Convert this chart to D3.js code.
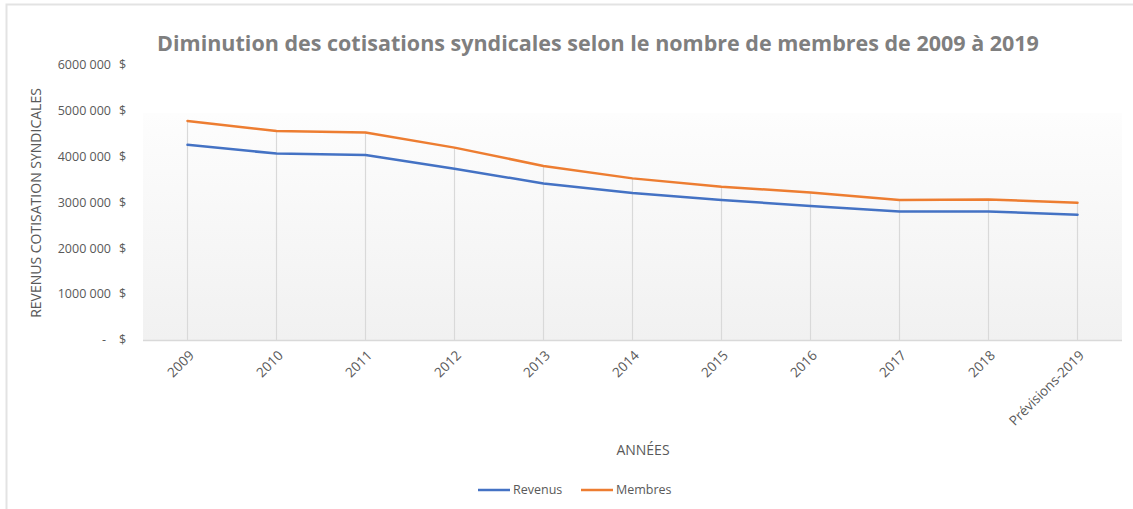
<!DOCTYPE html>
<html>
<head>
<meta charset="utf-8">
<script src="https://cdn.jsdelivr.net/npm/d3@7"></script>
<style>
  body { margin: 0; background: #fff; }
  text { font-family: "Open Sans", "Noto Sans", sans-serif; fill: #595959; }
</style>
</head>
<body>
<svg width="1133" height="509"></svg>
<script>
// Data
var years = ["2009", "2010", "2011", "2012", "2013", "2014", "2015", "2016", "2017", "2018", "Prévisions-2019"];
var revenus = [4250000, 4060000, 4030000, 3730000, 3410000, 3200000, 3050000, 2920000, 2800000, 2800000, 2730000];
var membres = [4770000, 4550000, 4520000, 4190000, 3790000, 3520000, 3340000, 3210000, 3050000, 3060000, 2990000];
var yTicks = [0, 1000000, 2000000, 3000000, 4000000, 5000000, 6000000];

var series = [
  { name: "Revenus", values: revenus, color: "#4472C4" },
  { name: "Membres", values: membres, color: "#ED7D31" }
];

var svg = d3.select("svg"),
  width = +svg.attr("width"),
  height = +svg.attr("height");

// outer chart border (only top and left are visible in the picture)
svg.append("rect")
  .attr("x", 6.5).attr("y", 4.5)
  .attr("width", width + 10).attr("height", height + 10)
  .attr("fill", "#fff")
  .attr("stroke", "#e3e3e3")
  .attr("stroke-width", 2);

var x = d3.scaleBand().domain(years).range([143, 1122]);
var y = d3.scaleLinear().domain([0, 6000000]).range([340, 64.5]);

function xc(d) { return x(d) + x.bandwidth() / 2; }

// plot area gradient
var defs = svg.append("defs");
var grad = defs.append("linearGradient")
  .attr("id", "plotGrad")
  .attr("x1", 0).attr("y1", 0).attr("x2", 0).attr("y2", 1);
grad.append("stop").attr("offset", "0%").attr("stop-color", "#fdfdfd");
grad.append("stop").attr("offset", "100%").attr("stop-color", "#f1f1f1");

svg.append("rect")
  .attr("x", 143).attr("y", 113)
  .attr("width", 1122 - 143).attr("height", 340 - 113)
  .attr("fill", "url(#plotGrad)");

// drop lines from the highest series down to the axis
svg.append("g").selectAll("line")
  .data(years)
  .enter()
  .append("line")
  .attr("x1", function(d) { return xc(d); })
  .attr("x2", function(d) { return xc(d); })
  .attr("y1", function(d, i) { return y(Math.max(revenus[i], membres[i])); })
  .attr("y2", y(0))
  .attr("stroke", "#d9d9d9")
  .attr("stroke-width", 1.2);

// x axis line
svg.append("line")
  .attr("x1", 143).attr("x2", 1122)
  .attr("y1", y(0) + 0.5).attr("y2", y(0) + 0.5)
  .attr("stroke", "#d9d9d9")
  .attr("stroke-width", 1.5);

// y tick labels, accounting style: number then " $"
function fmt(v) {
  if (v === 0) return "-";
  return Math.floor(v / 1000) + " " + String(v % 1000).padStart(3, "0");
}

var yl = svg.append("g").selectAll("g")
  .data(yTicks)
  .enter()
  .append("g")
  .attr("transform", function(d) { return "translate(0," + y(d) + ")"; });

yl.append("text")
  .attr("x", function(d) { return d === 0 ? 106 : 111; })
  .attr("dy", "0.35em")
  .attr("text-anchor", "end")
  .attr("font-size", "12.5px")
  .text(fmt);

yl.append("text")
  .attr("x", 119)
  .attr("dy", "0.35em")
  .attr("font-size", "12.5px")
  .text("$");

// x tick labels, rotated
svg.append("g").selectAll("text")
  .data(years)
  .enter()
  .append("text")
  .attr("transform", function(d) { return "translate(" + (xc(d) + 4) + ",353) rotate(-45)"; })
  .attr("text-anchor", "end")
  .attr("dy", "0.35em")
  .attr("font-size", "13.5px")
  .text(function(d) { return d; });

// lines
var line = d3.line()
  .x(function(d, i) { return xc(years[i]); })
  .y(function(d) { return y(d); });

svg.append("g").selectAll("path")
  .data(series)
  .enter()
  .append("path")
  .attr("d", function(d) { return line(d.values); })
  .attr("fill", "none")
  .attr("stroke", function(d) { return d.color; })
  .attr("stroke-width", 2.5)
  .attr("stroke-linejoin", "round")
  .attr("stroke-linecap", "round");

// title
svg.append("text")
  .attr("x", 598)
  .attr("y", 51)
  .attr("text-anchor", "middle")
  .attr("font-size", "21.5px")
  .attr("font-weight", "bold")
  .style("fill", "#7f7f7f")
  .text("Diminution des cotisations syndicales selon le nombre de membres de 2009 à 2019");

// axis titles
svg.append("text")
  .attr("transform", "translate(36,203) rotate(-90)")
  .attr("text-anchor", "middle")
  .attr("dy", "0.35em")
  .attr("font-size", "14px")
  .text("REVENUS COTISATION SYNDICALES");

svg.append("text")
  .attr("x", 643)
  .attr("y", 450)
  .attr("dy", "0.35em")
  .attr("text-anchor", "middle")
  .attr("font-size", "14px")
  .text("ANNÉES");

// legend
var legendX = [478, 581];
var lg = svg.append("g").selectAll("g")
  .data(series)
  .enter()
  .append("g")
  .attr("transform", function(d, i) { return "translate(" + legendX[i] + ",490)"; });

lg.append("line")
  .attr("x1", 0).attr("x2", 32)
  .attr("stroke", function(d) { return d.color; })
  .attr("stroke-width", 2.5);

lg.append("text")
  .attr("x", 35)
  .attr("dy", "0.35em")
  .attr("font-size", "12.5px")
  .text(function(d) { return d.name; });
</script>
</body>
</html>
